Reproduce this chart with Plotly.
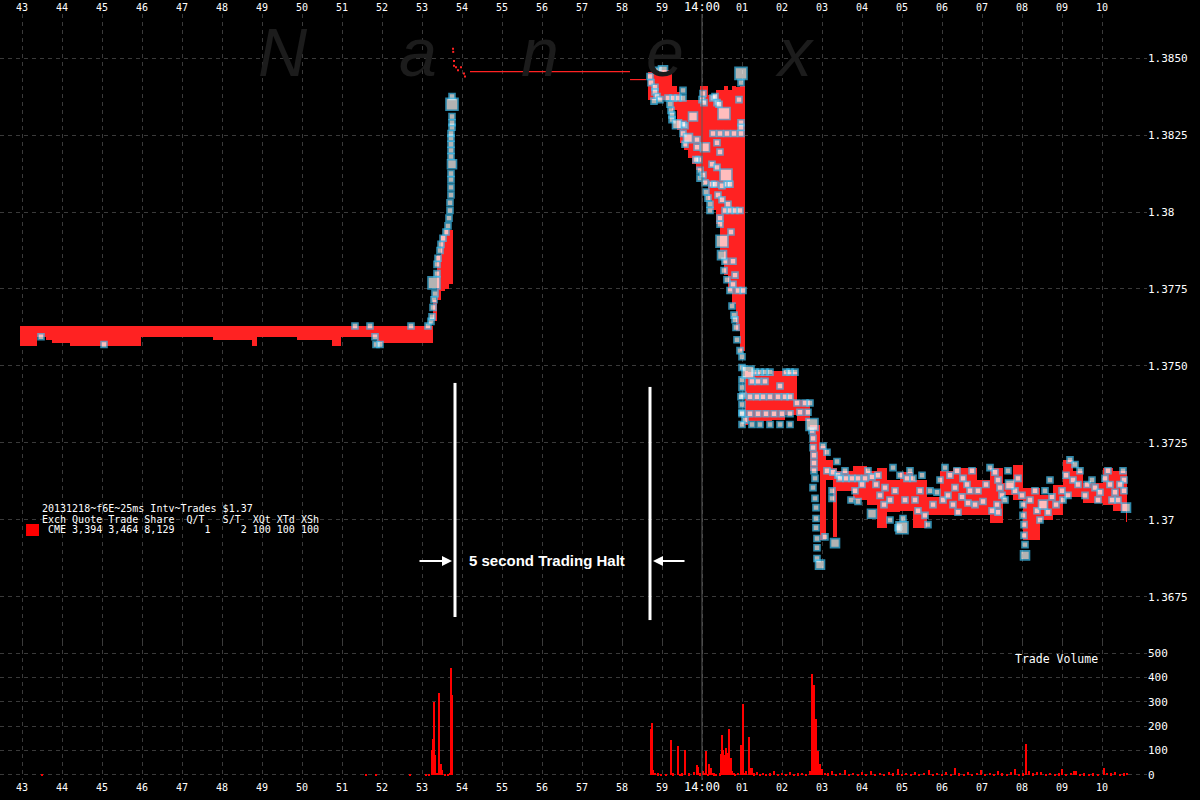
import plotly.graph_objects as go

# ---------------- axes / labels ----------------
tick_secs = list(range(43, 71))          # seconds after 13:59:00
tick_text = [str(s) for s in range(43, 60)] + ['<span style="font-size:12px">14:00</span>'] + ['%02d' % s for s in range(1, 11)]
price_ticks = [1.3675, 1.37, 1.3725, 1.375, 1.3775, 1.38, 1.3825, 1.385]
price_tick_text = ['1.3675', '1.37', '1.3725', '1.3750', '1.3775', '1.38', '1.3825', '1.3850']
vol_ticks = [0, 100, 200, 300, 400, 500]

legend_lines = [
    "20131218~f6E~25ms Intv~Trades $1.37",
    "Exch Quote Trade Share  Q/T   S/T  XQt XTd XSh",
    " CME 3,394 3,464 8,129     1     2 100 100 100",
]

# ---------------- quotes (bid/ask range per interval) ----------------
q_t0 = [42.95, 43.375, 43.60, 43.75, 44.20, 45.975, 47.775, 48.75, 48.875, 49.875,
        50.75, 50.975, 51.875,
        53.275, 53.375, 53.475, 53.575, 53.675,
        58.65, 58.875, 59.25, 59.375, 59.45, 59.55, 59.65, 59.75, 59.85, 59.95,
        60.05, 60.15, 60.25, 60.35, 60.45, 60.55, 60.65, 60.75, 60.85, 60.95,
        61.075, 61.15, 61.45, 61.75, 62.075, 62.375, 62.70, 62.95, 63.10, 63.275,
        63.375, 63.775, 64.125, 64.375, 64.625, 64.95, 65.275, 65.625, 65.95, 66.275,
        66.875, 67.20, 67.525, 67.775, 68.025, 68.45, 68.775, 69.025, 69.275, 69.525,
        69.775, 70.025, 70.275, 70.60]
q_t1 = [43.375, 43.60, 43.75, 44.20, 45.975, 47.775, 48.75, 48.875, 49.875, 50.75,
        50.975, 51.875, 53.275,
        53.375, 53.475, 53.575, 53.675, 53.775,
        58.875, 59.25, 59.375, 59.45, 59.55, 59.65, 59.75, 59.85, 59.95, 60.05,
        60.15, 60.25, 60.35, 60.45, 60.55, 60.65, 60.75, 60.85, 60.95, 61.075,
        61.15, 61.45, 61.75, 62.075, 62.375, 62.70, 62.95, 63.10, 63.275, 63.375,
        63.775, 64.125, 64.375, 64.625, 64.95, 65.275, 65.625, 65.95, 66.275, 66.875,
        67.20, 67.525, 67.775, 68.025, 68.45, 68.775, 69.025, 69.275, 69.525, 69.775,
        70.025, 70.275, 70.625, 70.625]
q_lo = [1.37565, 1.37595, 1.37585, 1.37575, 1.37565, 1.37595, 1.37585, 1.37565, 1.37595, 1.37585,
        1.37565, 1.37595, 1.37575,
        1.37645, 1.37715, 1.37745, 1.37750, 1.37765,
        1.38365, 1.38365, 1.38330, 1.38265, 1.38225, 1.38200, 1.38175, 1.38155, 1.38135, 1.38120,
        1.38090, 1.38040, 1.38005, 1.37960, 1.37875, 1.37795, 1.37745, 1.37700, 1.37615, 1.37550,
        1.37310, 1.37320, 1.37320, 1.37325, 1.37340, 1.37320, 1.37160, 1.36935, 1.37130, 1.36945,
        1.37095, 1.37065, 1.37050, 1.36975, 1.37025, 1.37030, 1.36975, 1.37015, 1.37015, 1.37015,
        1.37015, 1.36990, 1.37080, 1.37065, 1.36935, 1.37000, 1.37015, 1.37075, 1.37075, 1.37055,
        1.37055, 1.37050, 1.37030, 1.36995]
q_hi = [1.37630, 1.37630, 1.37630, 1.37630, 1.37630, 1.37630, 1.37630, 1.37630, 1.37630, 1.37630,
        1.37630, 1.37630, 1.37630,
        1.37715, 1.37860, 1.37925, 1.37940, 1.37940,
        1.38455, 1.38460, 1.38410, 1.38390, 1.38365, 1.38365, 1.38365, 1.38365, 1.38365, 1.38410,
        1.38410, 1.38380, 1.38380, 1.38395, 1.38395, 1.38410, 1.38395, 1.38410, 1.38405, 1.38410,
        1.37485, 1.37480, 1.37470, 1.37485, 1.37480, 1.37390, 1.37310, 1.37240, 1.37195, 1.37170,
        1.37160, 1.37175, 1.37160, 1.37170, 1.37130, 1.37155, 1.37130, 1.37075, 1.37160, 1.37170,
        1.37130, 1.37170, 1.37120, 1.37180, 1.37105, 1.37080, 1.37115, 1.37195, 1.37160, 1.37120,
        1.37120, 1.37170, 1.37160, 1.37030]

# quotes during the halt
halt_t = [54.20, 58.20]
halt_p = [1.38456, 1.38456]
reopen_t = [58.20, 58.60]
reopen_p = [1.38430, 1.38430]
halt_dot_t = [53.775, 53.78, 53.80, 53.80, 53.85, 53.90, 53.975, 54.05, 54.075]
halt_dot_p = [1.38530, 1.38520, 1.38490, 1.38475, 1.38470, 1.38460, 1.38470, 1.38450, 1.38440]

# ---------------- trades ----------------
flat_tr_t = [43.475, 45.05, 51.325, 51.70, 51.825, 51.85, 51.95, 52.725, 53.15]
flat_tr_p = [1.37595, 1.37570, 1.37630, 1.37630, 1.37595, 1.37570, 1.37570, 1.37630, 1.37630]
flat_tr_q = [1, 1, 1, 1, 1, 1, 1, 1, 1]

spike_tr_t = [53.225, 53.25, 53.275, 53.30, 53.325, 53.30, 53.375, 53.375, 53.40, 53.45,
              53.475, 53.525, 53.60, 53.65, 53.675, 53.70, 53.70, 53.725, 53.725, 53.725,
              53.725, 53.75, 53.725, 53.725, 53.725, 53.725, 53.725, 53.75, 53.75, 53.75,
              53.75, 53.75]
spike_tr_p = [1.37645, 1.37660, 1.37690, 1.37715, 1.37735, 1.37770, 1.37800, 1.37830, 1.37850, 1.37875,
              1.37895, 1.37915, 1.37935, 1.37955, 1.37980, 1.38005, 1.38030, 1.38055, 1.38080, 1.38105,
              1.38125, 1.38155, 1.38180, 1.38200, 1.38220, 1.38240, 1.38255, 1.38275, 1.38290, 1.38310,
              1.38350, 1.38375]
spike_tr_q = [1, 1, 1, 1, 1, 20, 1, 1, 1, 1,
              1, 1, 1, 1, 1, 1, 1, 1, 1, 1,
              1, 5, 1, 1, 1, 1, 1, 1, 1, 1,
              20, 1]

drop_tr_t = [58.70, 58.725, 58.90, 59.025, 58.825, 58.825, 58.875, 58.80, 58.95, 59.15,
             59.275, 59.40, 59.525, 59.20, 59.225, 59.25, 59.25, 59.375, 59.575, 59.65,
             59.575, 59.875, 59.875, 60.075, 59.925, 59.95, 59.95, 60.25, 60.375, 60.275,
             60.45, 60.625, 60.80, 60.975, 60.55, 60.275, 60.375, 60.975, 60.975, 60.925,
             60.975, 60.975, 60.025, 60.00, 59.525, 60.05, 60.325, 60.425, 59.775, 59.525,
             59.525, 59.85, 60.025, 60.375, 60.45, 60.60, 60.075, 60.25, 60.325, 60.50,
             60.625, 60.70, 60.10, 60.15, 60.20, 60.40, 60.50, 60.65, 60.575, 60.70,
             60.825, 60.95, 60.20, 60.45, 60.45, 60.725, 60.50, 60.50, 60.575, 60.775,
             60.55, 60.625, 60.775, 60.825, 60.70, 60.90, 61.025, 60.75, 60.80, 60.825,
             60.85, 60.875, 60.95, 61.00, 61.00, 61.15, 61.00, 61.00, 61.025, 61.00,
             61.00, 61.075]
drop_tr_p = [1.38440, 1.38420, 1.38460, 1.38460, 1.38405, 1.38390, 1.38375, 1.38360, 1.38365, 1.38370,
             1.38370, 1.38370, 1.38370, 1.38350, 1.38330, 1.38315, 1.38300, 1.38285, 1.38280, 1.38240,
             1.38220, 1.38235, 1.38210, 1.38210, 1.38170, 1.38135, 1.38110, 1.38155, 1.38145, 1.38255,
             1.38255, 1.38255, 1.38255, 1.38255, 1.38320, 1.38370, 1.38355, 1.38450, 1.38420, 1.38365,
             1.38290, 1.38275, 1.38385, 1.38365, 1.38395, 1.38355, 1.38375, 1.38350, 1.38310, 1.38285,
             1.38255, 1.38170, 1.38120, 1.38225, 1.38195, 1.38120, 1.38095, 1.38090, 1.38090, 1.38085,
             1.38090, 1.38090, 1.38065, 1.38045, 1.38025, 1.38055, 1.38040, 1.38025, 1.38005, 1.38005,
             1.38005, 1.38005, 1.38005, 1.37980, 1.37960, 1.37935, 1.37905, 1.37860, 1.37840, 1.37840,
             1.37810, 1.37780, 1.37765, 1.37795, 1.37745, 1.37745, 1.37745, 1.37695, 1.37665, 1.37650,
             1.37625, 1.37585, 1.37550, 1.37530, 1.37495, 1.37480, 1.37455, 1.37430, 1.37405, 1.37375,
             1.37350, 1.37325]
drop_tr_q = [1, 1, 1, 5, 1, 1, 1, 1, 1, 1,
             1, 1, 1, 1, 1, 1, 1, 5, 1, 5,
             1, 1, 1, 5, 1, 1, 1, 1, 1, 1,
             1, 1, 1, 1, 20, 1, 1, 20, 1, 1,
             1, 1, 1, 1, 1, 1, 1, 1, 5, 1,
             1, 1, 1, 1, 1, 20, 1, 1, 1, 1,
             1, 1, 1, 1, 1, 1, 1, 1, 1, 1,
             1, 1, 1, 1, 1, 1, 20, 5, 1, 1,
             1, 1, 1, 1, 1, 1, 1, 1, 1, 1,
             1, 1, 1, 1, 1, 20, 1, 1, 1, 1,
             1, 1]

box_tr_t = [61.325, 61.45, 61.575, 61.70, 62.10, 62.20, 62.325, 61.25, 61.40, 61.575,
            61.95, 60.975, 61.20, 61.375, 61.525, 61.70, 61.90, 62.075, 62.20, 62.375,
            62.575, 62.70, 61.00, 61.20, 61.40, 61.60, 61.80, 62.00, 62.20, 62.45,
            62.65, 61.00, 61.25, 61.45, 61.70, 61.95, 62.20, 62.75]
box_tr_p = [1.37480, 1.37480, 1.37480, 1.37480, 1.37480, 1.37480, 1.37480, 1.37450, 1.37450, 1.37450,
            1.37435, 1.37400, 1.37400, 1.37400, 1.37400, 1.37400, 1.37400, 1.37400, 1.37400, 1.37380,
            1.37380, 1.37380, 1.37345, 1.37345, 1.37345, 1.37345, 1.37345, 1.37345, 1.37345, 1.37350,
            1.37350, 1.37310, 1.37310, 1.37310, 1.37310, 1.37310, 1.37310, 1.37310]
box_tr_q = [1, 1, 1, 1, 1, 1, 1, 1, 1, 1,
            1, 1, 1, 1, 1, 1, 1, 1, 1, 1,
            1, 1, 1, 1, 1, 1, 1, 1, 1, 1,
            1, 1, 1, 1, 1, 1, 1, 20]

late_tr_t = [62.75, 62.775, 62.775, 62.80, 62.80, 62.80, 62.825, 62.775, 62.825, 62.85,
             62.85, 62.85, 62.875, 62.875, 62.875, 62.95, 63.075, 63.325, 63.025, 63.125,
             63.125, 63.275, 63.40, 63.25, 63.25, 63.375, 63.45, 63.60, 63.75, 63.90,
             64.075, 63.725, 63.90, 64.15, 64.25, 64.25, 64.35, 64.45, 64.575, 64.70,
             64.70, 64.90, 65.00, 65.025, 64.775, 64.95, 65.125, 65.275, 65.50, 65.325,
             65.40, 65.575, 65.65, 65.70, 65.875, 66.025, 66.075, 66.20, 66.275, 66.40,
             66.375, 66.525, 66.625, 66.70, 66.65, 66.825, 67.025, 67.20, 67.325, 67.40,
             67.45, 67.50, 67.375, 67.40, 67.70, 67.825, 68.00, 68.025, 68.025, 68.05,
             68.05, 68.075, 68.075, 68.375, 68.525, 68.65, 68.575, 68.75, 69.00, 69.025,
             69.20, 69.325, 69.45, 69.275, 69.40, 69.625, 69.825, 69.95, 70.075, 70.20,
             70.325, 70.40, 70.525, 70.55, 70.55, 70.60]
late_tr_p = [1.37290, 1.37265, 1.37235, 1.37210, 1.37185, 1.37160, 1.37135, 1.37105, 1.37070, 1.37040,
             1.37005, 1.36975, 1.36940, 1.36910, 1.36875, 1.36855, 1.36945, 1.36925, 1.37240, 1.37220,
             1.37160, 1.37155, 1.37145, 1.37095, 1.37070, 1.37190, 1.37135, 1.37135, 1.37135, 1.37135,
             1.37135, 1.37065, 1.37060, 1.37160, 1.37140, 1.37020, 1.37115, 1.37080, 1.37105, 1.37065,
             1.37000, 1.36975, 1.36975, 1.37005, 1.37170, 1.37145, 1.37135, 1.37135, 1.37145, 1.37065,
             1.37030, 1.37015, 1.36985, 1.37095, 1.37090, 1.37065, 1.37170, 1.37145, 1.37050, 1.37025,
             1.37160, 1.37135, 1.37115, 1.37095, 1.37055, 1.37050, 1.37060, 1.37170, 1.37155, 1.37130,
             1.37105, 1.37080, 1.37050, 1.37025, 1.37115, 1.37095, 1.37080, 1.37050, 1.37015, 1.36985,
             1.36950, 1.36920, 1.36885, 1.37030, 1.37050, 1.37025, 1.37095, 1.37075, 1.37095, 1.37065,
             1.37195, 1.37180, 1.37160, 1.37130, 1.37115, 1.37115, 1.37105, 1.37090, 1.37135, 1.37115,
             1.37090, 1.37065, 1.37160, 1.37130, 1.37095, 1.37040]
late_tr_q = [1, 1, 1, 1, 1, 1, 1, 1, 1, 1,
             1, 1, 1, 1, 1, 5, 1, 5, 1, 1,
             1, 1, 1, 1, 1, 1, 1, 1, 1, 1,
             1, 1, 1, 1, 1, 5, 1, 1, 1, 1,
             1, 1, 20, 1, 1, 1, 1, 1, 1, 1,
             1, 1, 1, 1, 1, 1, 1, 1, 1, 1,
             1, 1, 1, 1, 1, 1, 1, 1, 1, 1,
             1, 1, 1, 1, 5, 1, 1, 1, 1, 1,
             1, 1, 5, 1, 5, 1, 1, 1, 1, 1,
             1, 1, 1, 1, 1, 1, 1, 1, 1, 1,
             1, 1, 1, 1, 1, 5]

extra_tr_t = [63.575, 63.825, 64.00, 64.40, 64.55, 64.825, 65.075, 65.20, 65.45, 65.775,
              65.95, 66.15, 66.325, 66.50, 66.75, 66.90, 67.10, 67.25, 67.575, 67.65,
              67.90, 68.20, 68.325, 68.45, 68.70, 68.85, 69.10, 69.15, 69.575, 69.75,
              69.90, 70.15, 70.25, 70.45]
extra_tr_p = [1.37160, 1.37095, 1.37115, 1.37145, 1.37050, 1.37095, 1.37065, 1.37160, 1.37095, 1.37050,
              1.37130, 1.37080, 1.37105, 1.37075, 1.37160, 1.37095, 1.37115, 1.37030, 1.37065, 1.37160,
              1.37135, 1.37065, 1.37095, 1.37000, 1.37130, 1.37050, 1.37145, 1.37080, 1.37080, 1.37130,
              1.37065, 1.37160, 1.37065, 1.37115]
extra_tr_q = [1] * 34

# ---------------- trade volume ----------------
vol_t = [43.50, 51.60, 51.85, 52.70, 53.10, 53.175, 53.25, 53.275, 53.30, 53.325,
         53.375, 53.425, 53.45, 53.475, 53.50, 53.575, 53.65, 53.70, 53.725, 53.75,
         58.725, 58.75, 58.775, 58.825, 58.90, 58.975, 59.10, 59.225, 59.275, 59.40,
         59.45, 59.50, 59.575, 59.675, 59.80, 59.875, 59.90, 59.95, 60.025, 60.075,
         60.10, 60.15, 60.175, 60.225, 60.275, 60.30, 60.35, 60.45, 60.475, 60.50,
         60.525, 60.575, 60.60, 60.625, 60.65, 60.675, 60.725, 60.75, 60.80, 60.825,
         60.90, 60.975, 61.00, 61.025, 61.05, 61.10, 61.175, 61.20, 61.25, 61.30,
         61.375, 61.45, 61.525, 61.60, 61.70, 61.80, 61.90, 62.00, 62.10, 62.20,
         62.30, 62.40, 62.50, 62.60, 62.70, 62.75, 62.80, 62.85, 62.90, 62.95,
         63.00, 63.075, 63.15,
         63.25, 63.35, 63.45, 63.575, 63.675, 63.775, 63.90, 64.00, 64.10, 64.225,
         64.325, 64.45, 64.55, 64.675, 64.775, 64.90, 65.00, 65.10, 65.225, 65.325,
         65.425, 65.55, 65.675, 65.775, 65.875, 66.00, 66.10, 66.225, 66.325, 66.425,
         66.55, 66.65, 66.75, 66.875, 66.975, 67.075, 67.20, 67.30, 67.40, 67.50,
         67.625, 67.725, 67.825, 67.925, 68.025, 68.10, 68.175, 68.275, 68.375, 68.475,
         68.60, 68.70, 68.825, 68.925, 69.00, 69.10, 69.225, 69.30, 69.35, 69.45,
         69.55, 69.675, 69.775, 69.90, 70.05, 70.125, 70.225, 70.325, 70.45, 70.55,
         70.625]
vol_n = [3, 4, 6, 5, 4, 5, 102, 148, 300, 82,
         10, 336, 15, 45, 20, 5, 5, 10, 440, 328,
         189, 213, 20, 10, 8, 5, 4, 143, 8, 119,
         6, 8, 102, 8, 12, 41, 33, 8, 15, 10,
         98, 5, 45, 30, 10, 8, 6, 8, 86, 164,
         102, 82, 110, 90, 10, 189, 70, 15, 10, 6,
         10, 123, 57, 291, 10, 15, 156, 27, 30, 8,
         12, 6, 10, 5, 8, 15, 6, 10, 5, 12,
         6, 8, 10, 6, 15, 415, 370, 230, 100, 45,
         25, 10, 8,
         15, 6, 10, 22, 6, 10, 5, 12, 6, 18,
         6, 9, 5, 12, 7, 25, 6, 10, 5, 14,
         6, 9, 20, 6, 10, 5, 12, 6, 28, 8,
         5, 14, 6, 10, 22, 6, 9, 5, 15, 8,
         6, 14, 25, 6, 8, 127, 18, 8, 14, 12,
         6, 10, 5, 8, 25, 6, 10, 18, 16, 6,
         8, 5, 8, 5, 27, 10, 8, 12, 6, 8,
         10]

# ---------------- checks ----------------
groups = {
    'quotes': (q_t0, q_t1, q_lo, q_hi),
    'flat': (flat_tr_t, flat_tr_p, flat_tr_q),
    'spike': (spike_tr_t, spike_tr_p, spike_tr_q),
    'drop': (drop_tr_t, drop_tr_p, drop_tr_q),
    'box': (box_tr_t, box_tr_p, box_tr_q),
    'late': (late_tr_t, late_tr_p, late_tr_q),
    'extra': (extra_tr_t, extra_tr_p, extra_tr_q),
    'vol': (vol_t, vol_n),
}
for k, arrs in groups.items():
    if len(set(len(a) for a in arrs)) != 1:
        raise ValueError(k + ' lengths ' + str([len(a) for a in arrs]))

# ---------------- styling ----------------
BG = 'black'
RED = '#ff2222'
VOLRED = '#ff0000'
CYAN = '#42c2f2'
GRID = '#3a3a3a'
MONO = 'DejaVu Sans Mono'
SANS = 'Liberation Sans, Arial'
size_of = {1: 6, 5: 9, 20: 12}

fig = go.Figure()

# quote ranges
fig.add_trace(go.Bar(
    x=[(a + b) / 2 for a, b in zip(q_t0, q_t1)],
    y=[h - l for l, h in zip(q_lo, q_hi)],
    base=q_lo,
    width=[b - a for a, b in zip(q_t0, q_t1)],
    marker=dict(color=RED, line=dict(width=0)),
    xaxis='x', yaxis='y', hoverinfo='skip'))

for tx, py in ((halt_t, halt_p), (reopen_t, reopen_p)):
    fig.add_trace(go.Scatter(x=tx, y=py, mode='lines', line=dict(color=RED, width=1.2),
                             xaxis='x', yaxis='y', hoverinfo='skip'))
fig.add_trace(go.Scatter(x=halt_dot_t, y=halt_dot_p, mode='markers',
                         marker=dict(symbol='square', size=2, color=RED),
                         xaxis='x', yaxis='y', hoverinfo='skip'))

# trades
tr_t = flat_tr_t + spike_tr_t + drop_tr_t + box_tr_t + late_tr_t + extra_tr_t
tr_p = flat_tr_p + spike_tr_p + drop_tr_p + box_tr_p + late_tr_p + extra_tr_p
tr_q = flat_tr_q + spike_tr_q + drop_tr_q + box_tr_q + late_tr_q + extra_tr_q
order = sorted(range(len(tr_q)), key=lambda i: tr_q[i])
fig.add_trace(go.Scatter(
    x=[tr_t[i] for i in order], y=[tr_p[i] for i in order], mode='markers',
    marker=dict(symbol='square', size=[size_of[tr_q[i]] for i in order], color='white',
                line=dict(color=CYAN, width=1.6)),
    xaxis='x', yaxis='y', hoverinfo='skip'))

# volume
fig.add_trace(go.Bar(x=vol_t, y=vol_n, width=0.04, marker=dict(color=VOLRED, line=dict(width=0)),
                     xaxis='x2', yaxis='y2', hoverinfo='skip'))

XR = [42.45, 71.125]
axis_common = dict(showgrid=True, gridcolor=GRID, griddash='4px,4px', gridwidth=1,
                   zeroline=False, showline=False, ticks='')
fig.update_layout(
    width=1200, height=800,
    paper_bgcolor=BG, plot_bgcolor=BG,
    margin=dict(l=0, r=53, t=14, b=20, autoexpand=False),
    showlegend=False, barmode='overlay', bargap=0,
    xaxis=dict(domain=[0, 1], anchor='y', range=XR, side='top', tickmode='array',
               tickvals=tick_secs, ticktext=tick_text,
               tickfont=dict(family=MONO, size=10, color='white'), **axis_common),
    xaxis2=dict(domain=[0, 1], anchor='y2', range=XR, matches='x', side='bottom', tickmode='array',
                tickvals=tick_secs, ticktext=tick_text,
                tickfont=dict(family=MONO, size=10, color='white'), **axis_common),
    yaxis=dict(domain=[0.1802, 1], range=[1.366039, 1.386429], side='right', tickmode='array',
               tickvals=price_ticks, ticktext=price_tick_text,
               tickfont=dict(family=MONO, size=11, color='white'), **axis_common),
    yaxis2=dict(domain=[0, 0.1802], range=[-20.5, 545.3], side='right', tickmode='array',
                tickvals=vol_ticks, ticktext=[str(v) for v in vol_ticks],
                tickfont=dict(family=MONO, size=11, color='white'), **axis_common),
)

shapes = [
    dict(type='line', xref='x', yref='paper', x0=60, x1=60, y0=0, y1=1,
         line=dict(color='#5c5c5c', width=1)),
    dict(type='line', xref='x', yref='y', x0=53.825, x1=53.825, y0=1.36685, y1=1.37445,
         line=dict(color='white', width=3)),
    dict(type='line', xref='x', yref='y', x0=58.70, x1=58.70, y0=1.36675, y1=1.37432,
         line=dict(color='white', width=3)),
    dict(type='rect', xref='paper', yref='paper', x0=0.0227, x1=0.0340, y0=0.3185, y1=0.3342,
         line=dict(width=0), fillcolor='#ff0000'),
]
fig.update_layout(shapes=shapes)

annotations = []
# watermark
for letter, px in zip(['N', 'a', 'n', 'e', 'x'], [0.2467, 0.3644, 0.4708, 0.5798, 0.6931]):
    annotations.append(dict(xref='paper', yref='paper', x=px, y=0.898, xanchor='center', yanchor='bottom',
                            text='<i>' + letter + '</i>', showarrow=False,
                            font=dict(family=SANS, size=68, color='#1c1c1c')))
# info block
for line, py in zip(legend_lines, [0.3538, 0.3401, 0.3264]):
    annotations.append(dict(xref='paper', yref='paper', x=0.0349, y=py, xanchor='left', yanchor='middle',
                            text=line.replace(' ', '\u00a0'), showarrow=False,
                            font=dict(family=MONO, size=10, color='white')))
annotations.append(dict(xref='paper', yref='paper', x=0.8832, y=0.158, xanchor='left', yanchor='middle',
                        text='Trade\u00a0Volume', showarrow=False,
                        font=dict(family=MONO, size=11.5, color='white')))
# halt annotation
annotations.append(dict(xref='x', yref='y', x=56.125, y=1.36867, xanchor='center', yanchor='middle',
                        text='<b>5 second Trading Halt</b>', showarrow=False,
                        font=dict(family=SANS, size=15, color='white')))
annotations.append(dict(xref='x', yref='y', x=53.75, y=1.36867, ax=-34, ay=0, text='',
                        showarrow=True, arrowhead=2, arrowsize=1, arrowwidth=2, arrowcolor='white', standoff=0))
annotations.append(dict(xref='x', yref='y', x=58.775, y=1.36867, ax=33, ay=0, text='',
                        showarrow=True, arrowhead=2, arrowsize=1, arrowwidth=2, arrowcolor='white', standoff=0))
fig.update_layout(annotations=annotations)

fig.write_html('out.html',
               config={'displayModeBar': False},
               post_script="document.body.style.margin='0';document.body.style.background='black';"
                           "document.documentElement.style.background='black';")
